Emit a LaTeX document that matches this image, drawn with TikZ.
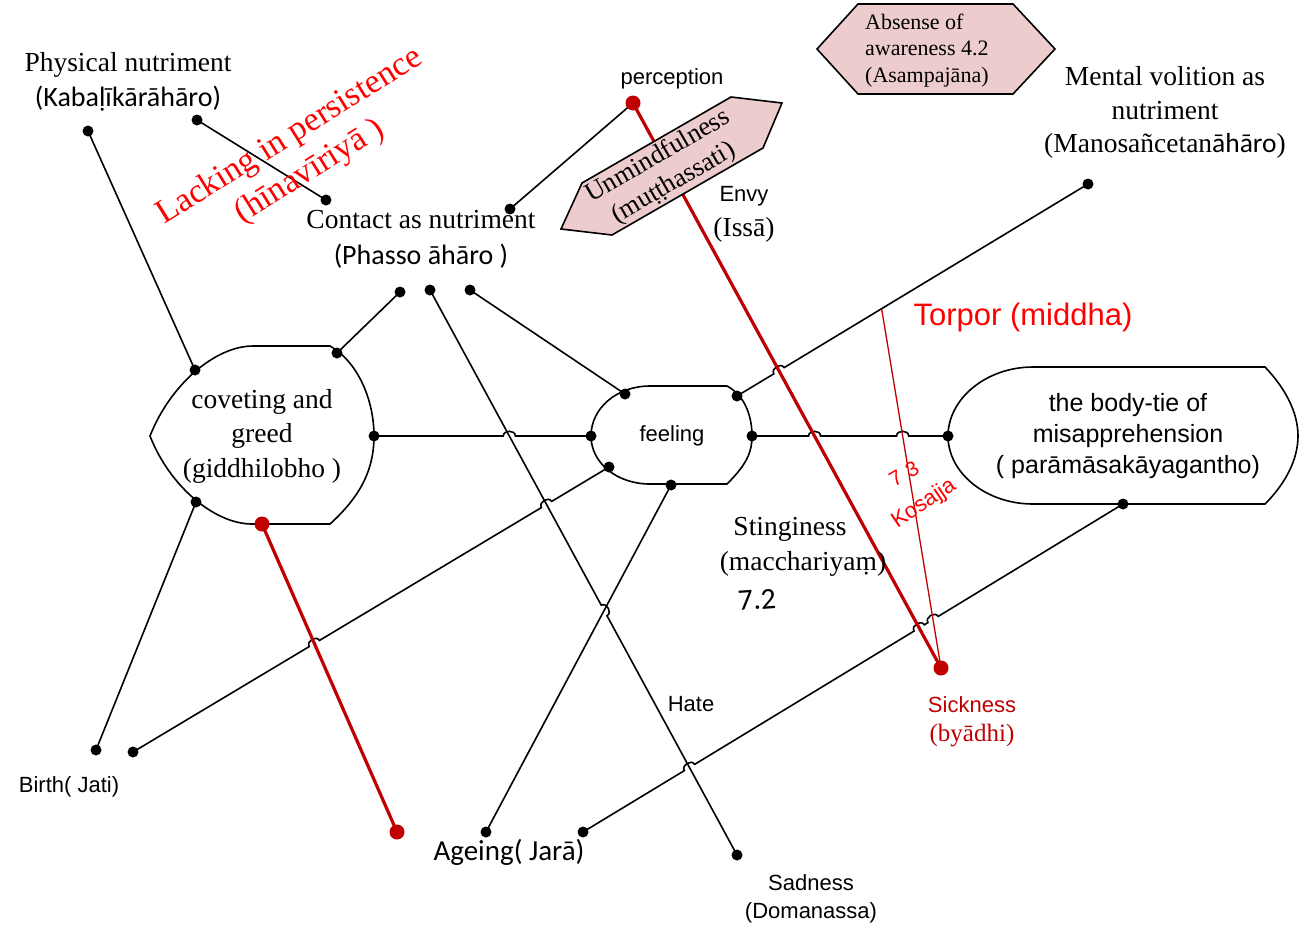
\documentclass[tikz,border=0pt]{standalone}
\usepackage{fontspec}
\setmainfont{Liberation Serif}
\newfontfamily\arialf{Liberation Sans}
\newfontfamily\calf{Carlito}
\usetikzlibrary{calc}
\definecolor{dred}{RGB}{192,0,0}
\definecolor{pinkfill}{RGB}{236,204,204}

\begin{document}
\begin{tikzpicture}[x=1pt,y=-1pt,
  wire/.style={line width=1.6pt,black},
  redwire/.style={line width=3.2pt,dred},
  thinred/.style={line width=1.3pt,dred},
  outline/.style={line width=1.6pt,black},
  hop/.style={bend left=90,looseness=1.35},
  lbl/.style={inner sep=0pt,align=center},
  serifbig/.style={lbl,font=\fontsize{27.5}{34}\selectfont},
  sanssmall/.style={lbl,font=\arialf\fontsize{22}{28}\selectfont},
  calbig/.style={lbl,font=\calf\fontsize{28}{34}\selectfont}
]
\useasboundingbox (0,0) rectangle (1311,927);

% ---- connection points ----
\coordinate (pn) at (88,131);
\coordinate (pk) at (197,120);
\coordinate (ct1) at (326,200);
\coordinate (ct2) at (510,209);
\coordinate (pc) at (633,103);
\coordinate (c1) at (400,292);
\coordinate (c2) at (430,290);
\coordinate (c3) at (470,290);
\coordinate (cvTL) at (195,370);
\coordinate (cvTR) at (337,353);
\coordinate (cvR) at (374,436);
\coordinate (cvBL) at (196,502);
\coordinate (cvB) at (262,524);
\coordinate (fTL) at (625,394);
\coordinate (fTR) at (737,396);
\coordinate (fL) at (591,436);
\coordinate (fR) at (752,436);
\coordinate (fBL) at (609,467);
\coordinate (fB) at (671,485);
\coordinate (btL) at (948,436);
\coordinate (btB) at (1123,504);
\coordinate (mV) at (1088,184);
\coordinate (sk) at (941,668);
\coordinate (bd1) at (96,750);
\coordinate (bd2) at (133,752);
\coordinate (agR) at (397,832);
\coordinate (ag1) at (486,832);
\coordinate (ag2) at (583,832);
\coordinate (sd) at (737,855);
\coordinate (tq) at ($(fTR)!0.412!(mV)$);

% ---- crossings ----
\coordinate (x1) at (intersection of cvR--fL and c2--sd);
\coordinate (x2) at (intersection of fTR--mV and pc--sk);
\coordinate (x3) at (intersection of fR--btL and pc--sk);
\coordinate (x4) at (intersection of fR--btL and tq--sk);
\coordinate (x5) at (intersection of ag2--btB and c2--sd);
\coordinate (x6) at (intersection of ag2--btB and pc--sk);
\coordinate (x7) at (intersection of ag2--btB and tq--sk);
\coordinate (x8) at (intersection of bd2--fBL and c2--sd);
\coordinate (x9) at (intersection of bd2--fBL and cvB--agR);
\coordinate (x10) at (intersection of c2--sd and fB--ag1);

% ---- shapes ----
\draw[outline] (253,346) -- (330,346)
  .. controls (358,362) and (374,400) .. (374,436)
  .. controls (374,468) and (362,495) .. (330,524) -- (252,524)
  .. controls (215,524) and (170,487) .. (150,436)
  .. controls (170,385) and (215,346) .. (253,346) -- cycle;
\draw[outline] (650,386) -- (727,386)
  .. controls (746,396) and (752,418) .. (752,436)
  .. controls (752,452) and (747,464) .. (727,484) -- (650,484)
  .. controls (617,484) and (591,463) .. (591,436)
  .. controls (591,408) and (617,386) .. (650,386) -- cycle;
\draw[outline] (1033,367) -- (1265,367)
  .. controls (1285,388) and (1298,412) .. (1298,436)
  .. controls (1298,460) and (1285,484) .. (1265,504) -- (1033,504)
  .. controls (986,504) and (948,473) .. (948,436)
  .. controls (948,399) and (986,367) .. (1033,367) -- cycle;

% ---- black connectors ----
\draw[wire] (pn) -- (cvTL);
\draw[wire] (pk) -- (ct1);
\draw[wire] (pc) -- (ct2);
\draw[wire] (c1) -- (cvTR);
\draw[wire] (c3) -- (fTL);
\draw[wire] (cvBL) -- (bd1);
\draw[wire] (fB) -- (ag1);
\draw[wire] (c2) -- ($(x10)!6pt!(c2)$) to[hop] ($(x10)!6pt!(sd)$) -- (sd);
\draw[wire] (cvR) -- ($(x1)!6pt!(cvR)$) to[hop] ($(x1)!6pt!(fL)$) -- (fL);
\draw[wire] (fTR) -- ($(x2)!6pt!(fTR)$) to[hop] ($(x2)!6pt!(mV)$) -- (mV);
\draw[wire] (fR) -- ($(x3)!6pt!(fR)$) to[hop] ($(x3)!6pt!(btL)$)
  -- ($(x4)!6pt!(fR)$) to[hop] ($(x4)!6pt!(btL)$) -- (btL);
\draw[wire] (bd2) -- ($(x9)!6pt!(bd2)$) to[hop] ($(x9)!6pt!(fBL)$)
  -- ($(x8)!6pt!(bd2)$) to[hop] ($(x8)!6pt!(fBL)$) -- (fBL);
\draw[wire] (ag2) -- ($(x5)!6pt!(ag2)$) to[hop] ($(x5)!6pt!(btB)$)
  -- ($(x6)!6pt!(ag2)$) to[hop] ($(x6)!6pt!(btB)$)
  -- ($(x7)!6pt!(ag2)$) to[hop] ($(x7)!6pt!(btB)$) -- (btB);

% ---- red connectors ----
\draw[thinred] (tq) -- (sk);
\draw[redwire] (pc) -- (sk);
\draw[redwire] (cvB) -- (agR);

% ---- pink hexagons ----
\draw[outline,fill=pinkfill] (561,229) -- (582,183) -- (731,97) -- (782,103) -- (763,148) -- (612,235) -- cycle;
\draw[outline,fill=pinkfill] (817,49) -- (858,4) -- (1013,4) -- (1055,49) -- (1013,94) -- (858,94) -- cycle;

% ---- dots ----
\foreach \p in {pn,pk,ct1,ct2,c1,c2,c3,cvTL,cvTR,cvR,cvBL,fTL,fTR,fL,fR,fBL,fB,btL,btB,mV,bd1,bd2,ag1,ag2,sd}
  \fill[black] (\p) circle (5.5pt);
\foreach \p in {pc,cvB,sk,agR}
  \fill[dred] (\p) circle (7.5pt);

% ---- labels ----
\node[serifbig] (tPhys) at (128,65) {Physical nutriment};
\node[calbig] (tKab) at (128,99) {(Kabaḷīkārāhāro)};
\node[lbl,text=red,rotate=32,font=\fontsize{34}{38}\selectfont] (tLack) at (290,137) {Lacking in persistence};
\node[lbl,text=red,rotate=32,font=\fontsize{34}{38}\selectfont] (tHina) at (310,172) {(hīnavīriyā )};
\node[serifbig] (tContact) at (421,220) {Contact as nutriment};
\node[calbig] (tPhasso) at (421,256) {(Phasso āhāro )};
\node[sanssmall] (tPerc) at (672,79) {perception};
\node[lbl,rotate=30,font=\fontsize{26.5}{31}\selectfont] (tUnm) at (666,170) {Unmindfulness\\(muṭṭhassati)};
\node[lbl,anchor=west,font=\fontsize{22}{27}\selectfont] (tAb1) at (865,22) {Absense of};
\node[lbl,anchor=west,font=\fontsize{22}{27}\selectfont] (tAb2) at (865,48) {awareness 4.2};
\node[lbl,anchor=west,font=\fontsize{22}{27}\selectfont] (tAb3) at (865,77) {(Asampajāna)};
\node[sanssmall] (tEnvy) at (744,196) {Envy};
\node[serifbig] (tIssa) at (744,230) {(Issā)};
\node[serifbig] (tMental) at (1165,93) {Mental volition as\\nutriment};
\node[serifbig] (tMano) at (1165,146) {(Manosañcetan{\calf āhāro})};
\node[lbl,text=red,font=\arialf\fontsize{31}{36}\selectfont] (tTorpor) at (1023,317) {Torpor (middha)};
\node[lbl,font=\fontsize{27.5}{34.5}\selectfont] (tCovet) at (262,436) {coveting and\\greed\\(giddhilobho )};
\node[sanssmall] (tFeel) at (672,436) {feeling};
\node[lbl,font=\arialf\fontsize{25}{31}\selectfont] (tBody) at (1128,436) {the body-tie of\\misapprehension\\( parāmāsakāyagantho)};
\node[lbl,text=red,rotate=30,font=\arialf\fontsize{21}{25}\selectfont] (tKos1) at (904,474) {7\,\,3};
\node[lbl,text=red,rotate=34,font=\arialf\fontsize{22}{25}\selectfont] (tKos2) at (924,504) {Kosajja};
\node[serifbig] (tSting) at (790,529) {Stinginess};
\node[serifbig] (tMacc) at (803,564) {(macchariyaṃ)};
\node[lbl,rotate=4,font=\calf\fontsize{30}{34}\selectfont] (t72) at (757,600) {7.2};
\node[lbl,text=dred,font=\arialf\fontsize{22}{28}\selectfont] (tSick) at (972,705) {Sickness};
\node[lbl,text=dred,font=\fontsize{25}{30}\selectfont] (tBya) at (972,736) {(byādhi)};
\node[sanssmall] (tHate) at (691,704) {Hate};
\node[sanssmall] (tBirth) at (69,787) {Birth( Jati)};
\node[lbl,font=\calf\fontsize{29}{34}\selectfont] (tAge) at (509,852) {Ageing( Jarā)};
\node[sanssmall] (tSad) at (811,899) {Sadness\\(Domanassa)};
\end{tikzpicture}
\end{document}
